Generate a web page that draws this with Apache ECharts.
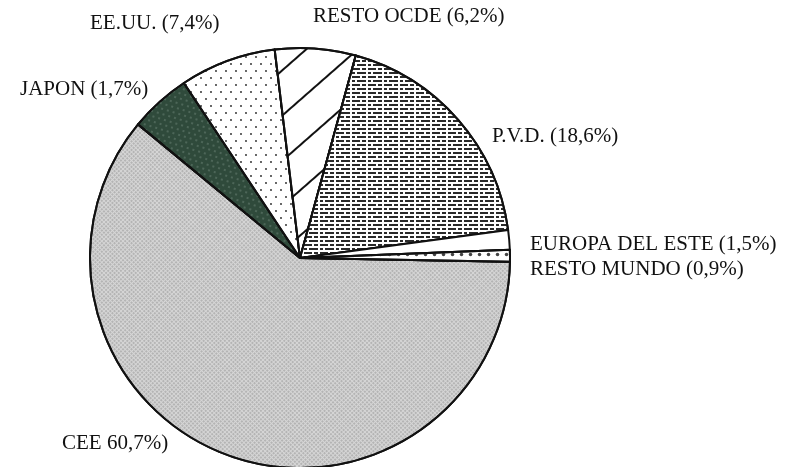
<!DOCTYPE html>
<html>
<head>
<meta charset="utf-8">
<script src="https://cdn.jsdelivr.net/npm/echarts@6/dist/echarts.min.js"></script>
<style>
html,body{margin:0;padding:0;background:#fff;}
#chart{width:788px;height:467px;}
</style>
</head>
<body>
<div id="chart"></div>
<script>
// Data (clockwise order starting just below the 3 o'clock position)
var categories = ['CEE', 'JAPON', 'EE.UU.', 'RESTO OCDE', 'P.V.D.', 'EUROPA DEL ESTE', 'RESTO MUNDO'];
// Slice sizes as drawn in the picture (JAPON slice is drawn ~4.7%, values sum to 100)
var values = [60.7, 4.7, 7.4, 6.2, 18.6, 1.5, 0.9];
var labelTexts = ['CEE 60,7%)', 'JAPON (1,7%)', 'EE.UU. (7,4%)', 'RESTO OCDE (6,2%)', 'P.V.D. (18,6%)', 'EUROPA DEL ESTE (1,5%)', 'RESTO MUNDO (0,9%)'];

var chart = echarts.init(document.getElementById('chart'), null, {renderer: 'canvas'});

var styles = [
  {color: '#d6d6d6', decal: {symbol: 'circle', symbolSize: 0.9, color: '#a4a4a4', dashArrayX: [2, 1], dashArrayY: [2, 1], rotation: Math.PI / 4}},
  {color: '#2f4a3b', decal: {symbol: 'circle', symbolSize: 0.7, color: 'rgba(200,220,205,0.55)', dashArrayX: [[2, 4], [0, 3, 2, 1]], dashArrayY: [2, 3], rotation: 0.3}},
  {color: '#ffffff', decal: {symbol: 'circle', symbolSize: 0.9, color: '#222', dashArrayX: [[2, 8], [0, 5, 2, 3]], dashArrayY: [2, 5], rotation: 0}},
  {color: '#ffffff', decal: {symbol: 'rect', symbolSize: 1, color: '#111', dashArrayX: [1, 0], dashArrayY: [2, 32], rotation: -0.72}},
  {color: '#ffffff', decal: {symbol: 'rect', symbolSize: 1, color: '#2a2a2a', dashArrayX: [[8, 2, 4, 2], [3, 2, 9, 2]], dashArrayY: [1.7, 1.9], rotation: 0}},
  {color: '#ffffff'},
  {color: '#ffffff', decal: {symbol: 'circle', symbolSize: 0.7, color: '#444', dashArrayX: [5, 4], dashArrayY: [5, 4], rotation: 0}}
];

var labelPos = [
  [62, 443], [20, 89], [90, 23], [313, 16], [492, 136], [530, 244], [530, 269]
];

var data = categories.map(function (c, i) {
  var st = styles[i];
  var itemStyle = {color: st.color, borderColor: '#111', borderWidth: 2};
  if (st.decal) itemStyle.decal = st.decal;
  return {name: c, value: values[i], itemStyle: itemStyle};
});

chart.setOption({
  animation: false,
  backgroundColor: '#fff',
  series: [{
    type: 'pie',
    center: [300, 258],
    radius: 210,
    startAngle: -1,
    clockwise: true,
    avoidLabelOverlap: false,
    silent: true,
    data: data,
    label: {
      show: true,
      position: 'outside',
      fontFamily: 'Liberation Serif',
      fontSize: 21,
      color: '#111',
      formatter: function (p) { return labelTexts[p.dataIndex]; }
    },
    labelLine: {show: false},
    labelLayout: function (p) {
      var pos = labelPos[p.dataIndex];
      return {x: pos[0], y: pos[1], align: 'left', verticalAlign: 'middle', moveOverlap: null};
    },
    emphasis: {disabled: true}
  }]
});
</script>
</body>
</html>
